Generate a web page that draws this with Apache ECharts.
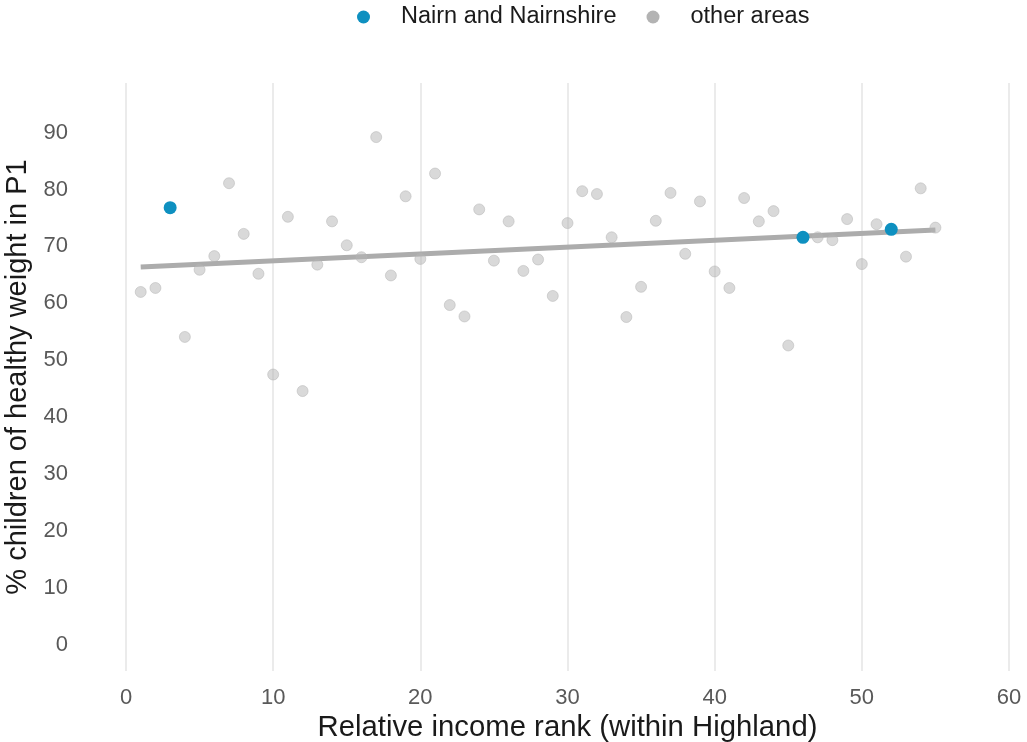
<!DOCTYPE html>
<html>
<head>
<meta charset="utf-8">
<script src="https://cdn.jsdelivr.net/npm/echarts@6/dist/echarts.min.js"></script>
<style>
html,body{margin:0;padding:0;background:#fff;}
#chart{width:1027px;height:742px;}
</style>
</head>
<body>
<div id="chart"></div>
<script>
// ---- data ----
const ranks = [1,2,3,4,5,6,7,8,9,10,11,12,13,14,15,16,17,18,19,20,21,22,23,24,25,26,27,28,29,30,31,32,33,34,35,36,37,38,39,40,41,42,43,44,45,46,47,48,49,50,51,52,53,54,55];
const healthyPct = [62.0,62.7,76.8,54.1,65.9,68.3,81.1,72.2,65.2,47.5,75.2,44.6,66.8,74.4,70.2,68.1,89.2,64.9,78.8,67.8,82.8,59.7,57.7,76.5,67.5,74.4,65.7,67.7,61.3,74.1,79.7,79.2,71.6,57.6,62.9,74.5,79.4,68.7,77.9,65.6,62.7,78.5,74.4,76.2,52.6,71.6,71.6,71.1,74.8,66.9,73.9,73.0,68.2,80.2,73.3];
const highlightRanks = [3,46,52];
const trendX = [1,55];
const trendY = [66.4,72.9];
const xTicks = [0,10,20,30,40,50,60];
const yTicks = [0,10,20,30,40,50,60,70,80,90];
const highlightName = 'Nairn and Nairnshire';
const otherName = 'other areas';
const xTitle = 'Relative income rank (within Highland)';
const yTitle = '% children of healthy weight in P1';

const hiData = [], otherData = [];
ranks.forEach((r,i)=>{
  if (highlightRanks.includes(r)) hiData.push([r, healthyPct[i]]);
  else otherData.push([r, healthyPct[i]]);
});
const trendData = trendX.map((x,i)=>[x, trendY[i]]);

const FONT = '"Liberation Sans", Arial, Helvetica, sans-serif';
const chart = echarts.init(document.getElementById('chart'), null, {renderer:'canvas'});
chart.setOption({
  backgroundColor:'#ffffff',
  animation:false,
  textStyle:{fontFamily:FONT},
  legend:{
    left:352, top:0,
    icon:'circle',
    itemWidth:13, itemHeight:13, itemGap:30,
    textStyle:{fontSize:23.5, color:'#1a1a1a', fontFamily:FONT, padding:[0,0,0,26]},
    data:[
      {name:highlightName, itemStyle:{color:'#0e90c0', opacity:1, borderWidth:0}},
      {name:otherName, itemStyle:{color:'#b3b3b3', opacity:1, borderWidth:0}}
    ]
  },
  grid:{left:126, right:18, top:83, bottom:71, containLabel:false, outerBoundsMode:'none'},
  xAxis:{
    type:'value', min:xTicks[0], max:xTicks[xTicks.length-1], interval:10,
    axisLine:{show:false}, axisTick:{show:false},
    axisLabel:{fontSize:22, color:'#595959', margin:16, fontFamily:FONT},
    splitLine:{show:true, lineStyle:{color:'#ebebeb', width:2}},
    name:xTitle, nameLocation:'middle', nameGap:38,
    nameTextStyle:{fontSize:29.3, color:'#1a1a1a', fontFamily:FONT}
  },
  yAxis:{
    type:'value', min:-4.57, max:98.7,
    axisLine:{show:false}, axisTick:{show:false},
    axisLabel:{fontSize:22, color:'#595959', margin:58, fontFamily:FONT, customValues:yTicks, formatter:(v)=>String(Math.round(v))},
    splitLine:{show:false},
    name:yTitle, nameLocation:'middle', nameGap:87, nameRotate:90,
    nameTextStyle:{fontSize:29, color:'#1a1a1a', fontFamily:FONT}
  },
  series:[
    {
      name:'trend', type:'line', data:trendData, showSymbol:false, silent:true,
      lineStyle:{color:'#acacac', width:5}, z:1
    },
    {
      name:otherName, type:'scatter', data:otherData, symbolSize:11,
      itemStyle:{color:'#b3b3b3', opacity:0.5, borderColor:'#b3b3b3', borderWidth:1}, z:2
    },
    {
      name:highlightName, type:'scatter', data:hiData, symbolSize:13,
      itemStyle:{color:'#0e90c0', opacity:1}, z:3
    }
  ]
});
</script>
</body>
</html>
